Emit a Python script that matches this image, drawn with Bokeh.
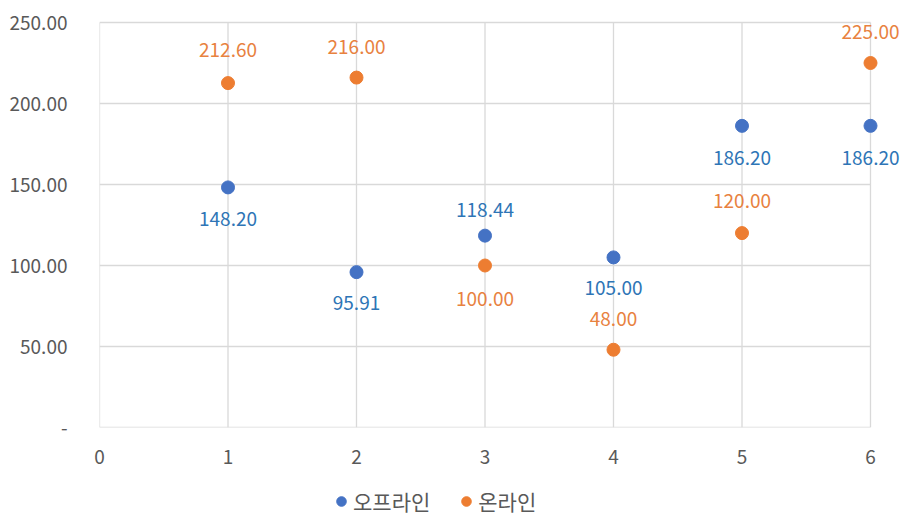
from bokeh.plotting import figure
from bokeh.layouts import column
from bokeh.models import ColumnDataSource, Legend, LegendItem, CustomJSTickFormatter, FixedTicker, Range1d
from bokeh.core.properties import value
from bokeh.embed import file_html
from bokeh.resources import INLINE

x_vals = [1, 2, 3, 4, 5, 6]
offline = [148.20, 95.91, 118.44, 105.00, 186.20, 186.20]
online = [212.60, 216.00, 100.00, 48.00, 120.00, 225.00]
series_names = ["오프라인", "온라인"]
x_ticks = [0, 1, 2, 3, 4, 5, 6]
y_ticks = [0, 50, 100, 150, 200, 250]

# label offsets in screen pixels (style): negative = above the point, positive = below
offline_label_dy = [32, 31, -26, 31, 32, 32]
online_label_dy = [-33, -31, 33, -31, -32, -31]

FONT = "Noto Sans CJK KR"
BLUE = "#4472C4"
ORANGE = "#ED7D31"
BLUE_TXT = "#2E75B6"
ORANGE_TXT = "#E8823F"
GRAY_TXT = "#595959"
GRID = "#D9D9D9"

W = 900
H_MAIN, H_LEG = 470, 47
LEFT = 99
BOTTOM = H_MAIN - 427
px_x = (870 - 99) / (x_ticks[-1] - x_ticks[0])
px_y = (427 - 22) / (y_ticks[-1] - y_ticks[0])
x_end = x_ticks[-1] + (W - 870) / px_x
y_end = y_ticks[-1] + 22 / px_y

p = figure(width=W, height=H_MAIN, output_backend="svg", toolbar_location=None,
           x_range=Range1d(x_ticks[0], x_end), y_range=Range1d(y_ticks[0], y_end),
           min_border_left=LEFT, min_border_right=0, min_border_top=0, min_border_bottom=BOTTOM)
p.outline_line_color = None
p.background_fill_color = "white"
p.border_fill_color = "white"
p.grid.visible = False

for ax in (p.xaxis[0], p.yaxis[0]):
    ax.axis_line_color = None
    ax.major_tick_line_color = None
    ax.minor_tick_line_color = None
    ax.major_label_text_font = FONT
    ax.major_label_text_font_size = "19px"
    ax.major_label_text_color = GRAY_TXT

p.xaxis[0].ticker = FixedTicker(ticks=x_ticks)
p.yaxis[0].ticker = FixedTicker(ticks=y_ticks)
p.yaxis[0].formatter = CustomJSTickFormatter(code="return tick == 0 ? '-' : tick.toFixed(2);")
p.xaxis[0].major_label_standoff = 16
p.yaxis[0].major_label_standoff = 26

# grid lines limited to the tick extents
n_x, n_y = len(x_ticks), len(y_ticks)
p.segment(x0=x_ticks, y0=[y_ticks[0]] * n_x, x1=x_ticks, y1=[y_ticks[-1]] * n_x,
          line_color=GRID, line_width=1.3)
p.segment(x0=[x_ticks[0]] * n_y, y0=y_ticks, x1=[x_ticks[-1]] * n_y, y1=y_ticks,
          line_color=GRID, line_width=1.3)

src_off = ColumnDataSource(dict(x=x_vals, y=offline,
                                lab=["%.2f" % v for v in offline], dy=offline_label_dy))
src_on = ColumnDataSource(dict(x=x_vals, y=online,
                               lab=["%.2f" % v for v in online], dy=online_label_dy))

p.scatter("x", "y", source=src_off, size=13, fill_color=BLUE, line_color=BLUE)
p.scatter("x", "y", source=src_on, size=13, fill_color=ORANGE, line_color=ORANGE)

p.text("x", "y", text="lab", source=src_off, y_offset="dy", text_align="center",
       text_baseline="middle", text_font=value(FONT), text_font_size="19px", text_color=BLUE_TXT)
p.text("x", "y", text="lab", source=src_on, y_offset="dy", text_align="center",
       text_baseline="middle", text_font=value(FONT), text_font_size="19px", text_color=ORANGE_TXT)

# legend strip underneath (its frame is aligned with the main plot's frame)
q = figure(width=W, height=H_LEG, output_backend="svg", toolbar_location=None,
           x_range=Range1d(0, 1), y_range=Range1d(0, 1),
           x_axis_location=None, y_axis_location=None,
           min_border_left=0, min_border_right=0, min_border_top=0, min_border_bottom=0)
q.grid.visible = False
q.outline_line_color = None
q.border_fill_color = "white"
q.background_fill_color = "white"
nan = float("nan")
l_off = q.scatter(x=[nan], y=[nan], size=16, fill_color=BLUE, line_color=BLUE)
l_on = q.scatter(x=[nan], y=[nan], size=16, fill_color=ORANGE, line_color=ORANGE)
legend = Legend(items=[LegendItem(label=series_names[0], renderers=[l_off]),
                       LegendItem(label=series_names[1], renderers=[l_on])],
                orientation="horizontal", location=(230, 1),
                border_line_color=None, background_fill_alpha=0,
                label_text_font=FONT, label_text_font_size="21px", label_text_color=GRAY_TXT,
                glyph_width=24, glyph_height=24, label_standoff=-3, spacing=24, padding=2)
q.add_layout(legend, "center")

layout = column(p, q, spacing=0)
open("out.html", "w").write(file_html(layout, INLINE))
